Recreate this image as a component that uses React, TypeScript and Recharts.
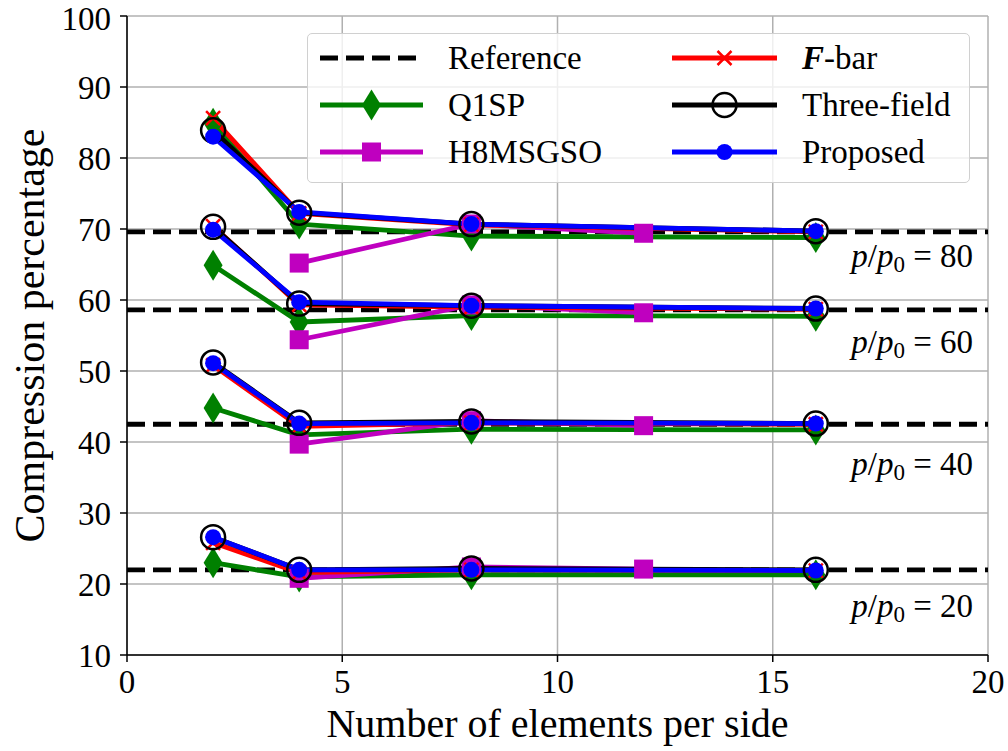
import { LineChart, Line, XAxis, YAxis, CartesianGrid, ReferenceLine, Label } from "recharts";

const meshes = [2, 4, 8, 16];
const h8Meshes = [4, 8, 12];
const loads = [20, 40, 60, 80];
const reference = [22.0, 42.5, 58.6, 69.6];
const labelLevels = [15.4, 35.3, 52.5, 64.6];

const q1sp = [
  [23.0, 21.0, 21.3, 21.3],
  [44.8, 41.0, 41.8, 41.7],
  [64.9, 56.9, 57.8, 57.7],
  [84.9, 70.7, 69.0, 68.8],
];
const h8msgso = [
  [20.8, 22.4, 22.1],
  [39.7, 43.0, 42.3],
  [54.4, 59.3, 58.2],
  [65.2, 70.7, 69.4],
];
const fbar = [
  [25.8, 21.6, 22.0, 21.9],
  [50.8, 42.2, 42.7, 42.5],
  [70.4, 59.3, 59.0, 58.7],
  [85.6, 72.2, 70.6, 69.6],
];
const threeField = [
  [26.6, 22.0, 22.2, 22.0],
  [51.2, 42.7, 42.9, 42.6],
  [70.3, 59.5, 59.2, 58.8],
  [83.9, 72.3, 70.7, 69.7],
];
const proposed = [
  [26.6, 22.0, 22.0, 21.9],
  [51.1, 42.6, 42.7, 42.6],
  [69.9, 59.7, 59.2, 58.8],
  [83.0, 72.4, 70.7, 69.7],
];

const xTicks = [0, 5, 10, 15, 20];
const yTicks = [10, 20, 30, 40, 50, 60, 70, 80, 90, 100];

const FONT = "'Liberation Serif', 'Times New Roman', serif";
const LW = 4.8;
const GREEN = "#008000";
const MAGENTA = "#bf00bf";
const RED = "#ff0000";
const BLUE = "#0000ff";

const toPoints = (xs: number[], ys: number[]) => xs.map((x, i) => ({ x, y: ys[i] }));

const diamond = (p: any) => (
  <path
    key={`d-${p.index}`}
    d={`M${p.cx},${p.cy - 15.5}L${p.cx + 9.5},${p.cy}L${p.cx},${p.cy + 15.5}L${p.cx - 9.5},${p.cy}Z`}
    fill={GREEN}
  />
);
const square = (p: any) => (
  <rect key={`s-${p.index}`} x={p.cx - 9.5} y={p.cy - 9.5} width={19} height={19} fill={MAGENTA} />
);
const cross = (p: any) => (
  <path
    key={`x-${p.index}`}
    d={`M${p.cx - 7},${p.cy - 7}L${p.cx + 7},${p.cy + 7}M${p.cx - 7},${p.cy + 7}L${p.cx + 7},${p.cy - 7}`}
    stroke={RED}
    strokeWidth={2.5}
  />
);
const ring = (p: any) => (
  <circle key={`o-${p.index}`} cx={p.cx} cy={p.cy} r={12} fill="none" stroke="#000" strokeWidth={2.5} />
);
const dotBlue = (p: any) => <circle key={`b-${p.index}`} cx={p.cx} cy={p.cy} r={8} fill={BLUE} />;

function LoadLabel(props: any) {
  const { viewBox, load } = props;
  const x = viewBox.x + viewBox.width - 15;
  return (
    <text x={x} y={viewBox.y} textAnchor="end" fontFamily={FONT} fontSize={33} fill="#000">
      <tspan fontStyle="italic">p</tspan>
      <tspan>/</tspan>
      <tspan fontStyle="italic">p</tspan>
      <tspan fontSize={23} dy={5}>0</tspan>
      <tspan dy={-5}>{` = ${load}`}</tspan>
    </text>
  );
}

function LegendBox() {
  const rows = [25, 72, 119];
  const txt = (x: number, y: number, s: any) => (
    <text x={x} y={y + 11} fontFamily={FONT} fontSize={33} fill="#000">
      {s}
    </text>
  );
  return (
    <div
      style={{
        position: "absolute",
        left: 307,
        top: 33,
        width: 663,
        height: 150,
        boxSizing: "border-box",
        border: "1.5px solid #d0d0d0",
        borderRadius: 5,
        background: "rgba(255,255,255,0.8)",
      }}
    >
      <svg width={663} height={150} style={{ position: "absolute", left: -1.5, top: -1.5 }}>
        <line x1={13} x2={116} y1={rows[0]} y2={rows[0]} stroke="#000" strokeWidth={LW} strokeDasharray="18 8" />
        {txt(141, rows[0], "Reference")}
        <line x1={13} x2={116} y1={rows[1]} y2={rows[1]} stroke={GREEN} strokeWidth={LW} />
        {diamond({ cx: 64.5, cy: rows[1], index: "l" })}
        {txt(141, rows[1], "Q1SP")}
        <line x1={13} x2={116} y1={rows[2]} y2={rows[2]} stroke={MAGENTA} strokeWidth={LW} />
        {square({ cx: 64.5, cy: rows[2], index: "l" })}
        {txt(141, rows[2], "H8MSGSO")}
        <line x1={365} x2={470} y1={rows[0]} y2={rows[0]} stroke={RED} strokeWidth={LW} />
        {cross({ cx: 417.5, cy: rows[0], index: "l" })}
        {txt(
          495,
          rows[0],
          <>
            <tspan fontWeight="bold" fontStyle="italic">F</tspan>
            <tspan>-bar</tspan>
          </>
        )}
        <line x1={365} x2={470} y1={rows[1]} y2={rows[1]} stroke="#000" strokeWidth={LW} />
        {ring({ cx: 417.5, cy: rows[1], index: "l" })}
        {txt(495, rows[1], "Three-field")}
        <line x1={365} x2={470} y1={rows[2]} y2={rows[2]} stroke={BLUE} strokeWidth={LW} />
        {dotBlue({ cx: 417.5, cy: rows[2], index: "l" })}
        {txt(495, rows[2], "Proposed")}
      </svg>
    </div>
  );
}

export default function App() {
  const series = [
    { name: "Q1SP", xs: meshes, vals: q1sp, color: GREEN, dot: diamond },
    { name: "H8MSGSO", xs: h8Meshes, vals: h8msgso, color: MAGENTA, dot: square },
    { name: "F-bar", xs: meshes, vals: fbar, color: RED, dot: cross },
    { name: "Three-field", xs: meshes, vals: threeField, color: "#000", dot: ring },
    { name: "Proposed", xs: meshes, vals: proposed, color: BLUE, dot: dotBlue },
  ];
  const axisStyle = { stroke: "#000", strokeWidth: 1.5 };
  const tickStyle = { fill: "#000", fontSize: 33, fontFamily: FONT };

  return (
    <div style={{ position: "absolute", left: 0, top: 0, width: 1008, height: 751, background: "#fff" }}>
      <LineChart width={1008} height={751} margin={{ top: 16, right: 20, bottom: 0, left: 0 }}>
        <CartesianGrid stroke="#b0b0b0" strokeWidth={1.5} />
        <XAxis
          dataKey="x"
          type="number"
          domain={[0, 20]}
          ticks={xTicks}
          height={96}
          tickSize={7}
          tickMargin={8}
          axisLine={axisStyle}
          tickLine={axisStyle}
          tick={tickStyle}
          allowDataOverflow
        >
          <Label
            content={(p: any) => (
              <text
                x={p.viewBox.x + p.viewBox.width / 2}
                y={737}
                textAnchor="middle"
                fontFamily={FONT}
                fontSize={40}
                fill="#000"
              >
                Number of elements per side
              </text>
            )}
          />
        </XAxis>
        <XAxis xAxisId="top" orientation="top" type="number" domain={[0, 20]} height={0} tick={false} tickLine={false} axisLine={axisStyle} />
        <YAxis
          type="number"
          domain={[10, 100]}
          ticks={yTicks}
          width={127}
          tickSize={7}
          tickMargin={9}
          axisLine={axisStyle}
          tickLine={axisStyle}
          tick={tickStyle}
          allowDataOverflow
        >
          <Label
            content={(p: any) => (
              <text
                x={44}
                y={p.viewBox.y + p.viewBox.height / 2}
                transform={`rotate(-90 44 ${p.viewBox.y + p.viewBox.height / 2})`}
                textAnchor="middle"
                fontFamily={FONT}
                fontSize={42}
                fill="#000"
              >
                Compression percentage
              </text>
            )}
          />
        </YAxis>
        <YAxis yAxisId="right" orientation="right" type="number" domain={[10, 100]} width={0} tick={false} tickLine={false} axisLine={axisStyle} />

        {reference.map((r, i) => (
          <Line
            key={`ref-${i}`}
            data={toPoints([0, 20], [r, r])}
            dataKey="y"
            stroke="#000"
            strokeWidth={LW}
            strokeDasharray="18 8"
            dot={false}
            activeDot={false}
            isAnimationActive={false}
          />
        ))}
        {series.map((s) =>
          s.vals.map((v, i) => (
            <Line
              key={`${s.name}-${i}`}
              data={toPoints(s.xs, v)}
              dataKey="y"
              stroke={s.color}
              strokeWidth={LW}
              strokeLinejoin="round"
              dot={s.dot}
              activeDot={false}
              isAnimationActive={false}
            />
          ))
        )}
        {labelLevels.map((l, i) => (
          <ReferenceLine
            key={`lab-${i}`}
            y={l}
            stroke="none"
            label={<LoadLabel load={loads[i]} />}
          />
        ))}
      </LineChart>
      <LegendBox />
    </div>
  );
}
